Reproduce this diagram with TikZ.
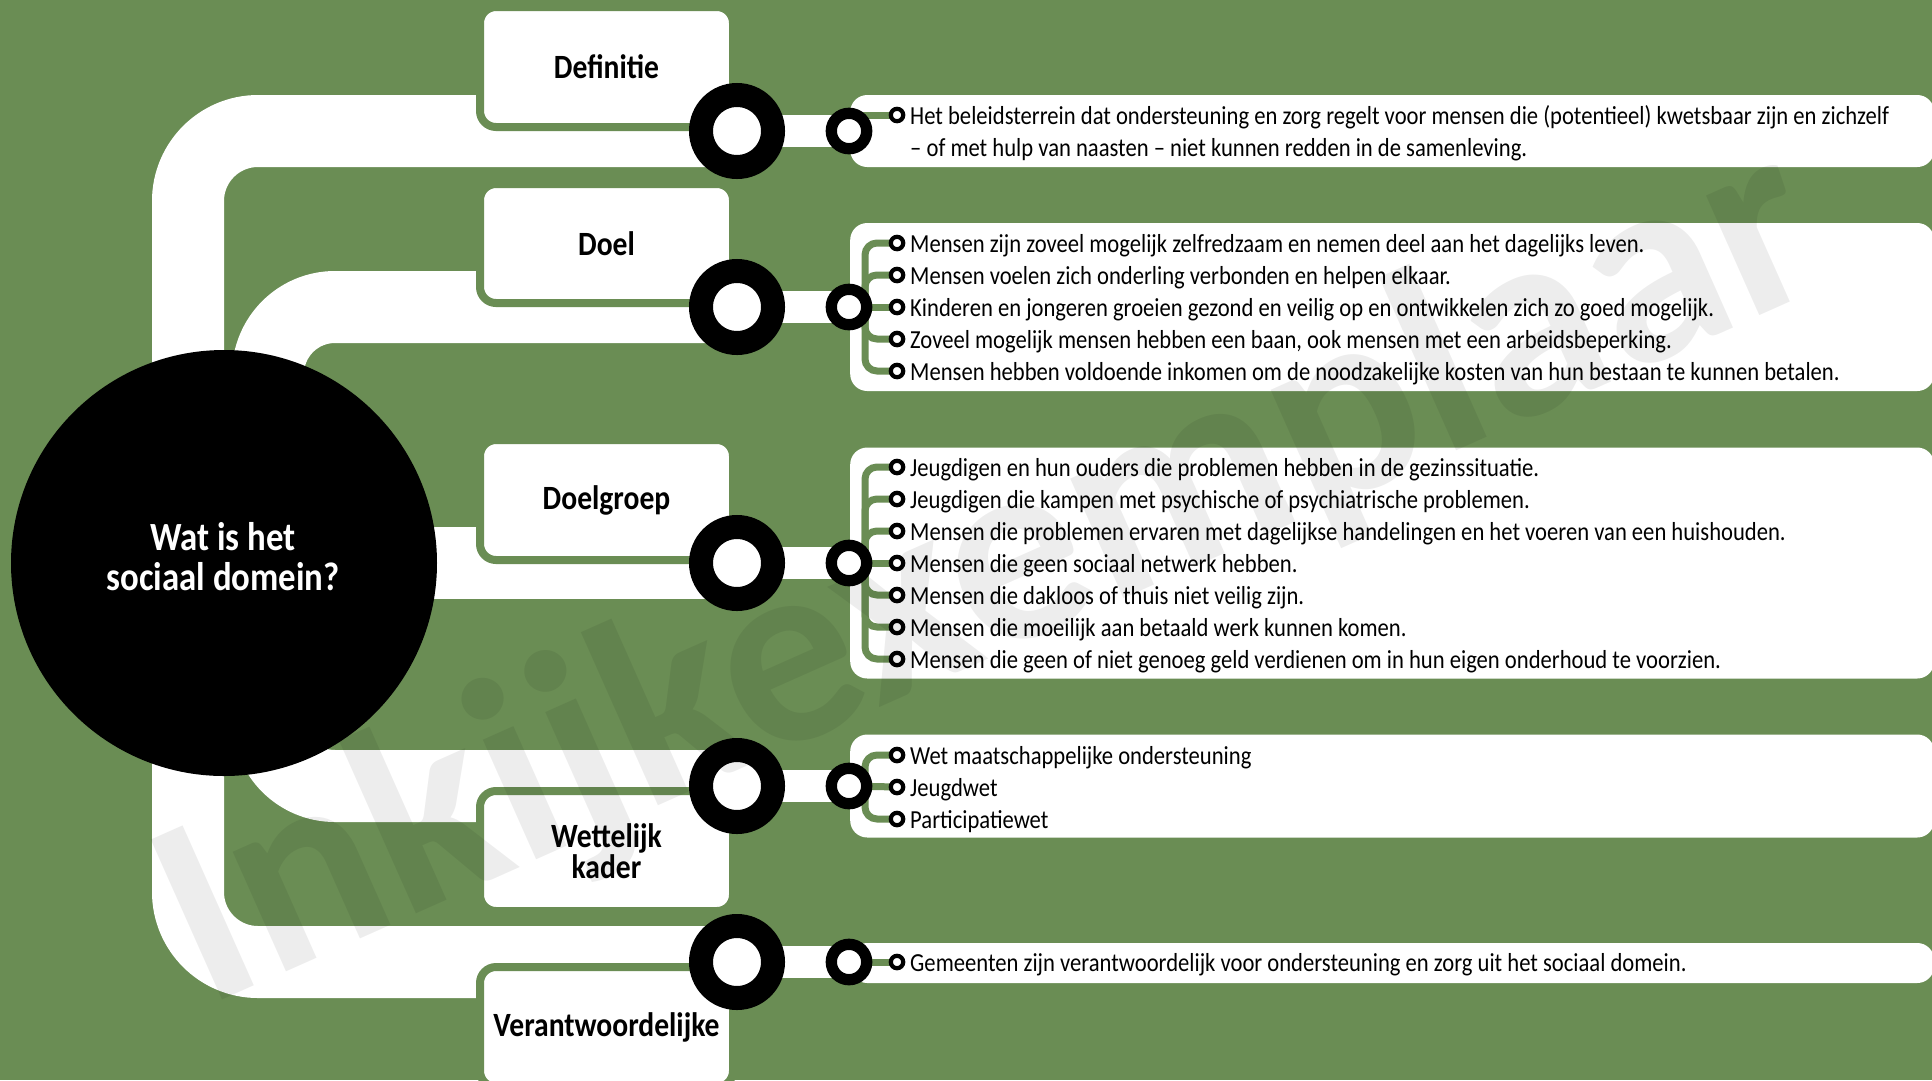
\documentclass[tikz,border=0pt]{standalone}
\usepackage{fontspec}
\setmainfont{Carlito}[FakeStretch=0.87]
\newfontfamily\markfont{Carlito}
\usetikzlibrary{calc}
\pgfdeclarelayer{ground}
\pgfdeclarelayer{tubes}
\pgfdeclarelayer{boxes}
\pgfdeclarelayer{twigs}
\pgfdeclarelayer{top}
\pgfsetlayers{ground,tubes,boxes,twigs,main,top}
\definecolor{leaf}{RGB}{106,141,84}
\begin{document}
\begin{tikzpicture}[x=1pt,y=-1pt,
  tube/.style={draw=white, line width=72pt},
  ringlink/.style={draw=white, line width=32pt},
  hub/.style={circle, fill=black, minimum size=426pt, inner sep=0pt},
  titletext/.style={anchor=base, inner sep=0pt, text=white, font=\bfseries\fontsize{40}{40}\selectfont},
  hbox/.style={rectangle, rounded corners=16pt, fill=white, draw=leaf, line width=8pt,
    minimum width=253pt, minimum height=120pt, inner sep=0pt, align=center,
    font=\bfseries\fontsize{34}{31}\selectfont},
  tbox/.style={rectangle, rounded corners=17pt, fill=white, minimum width=1084pt,
    inner sep=0pt, anchor=west},
  bigring/.style={circle, draw=black, fill=white, line width=24pt, minimum size=72pt, inner sep=0pt},
  smallring/.style={circle, draw=black, fill=white, line width=11.3pt, minimum size=35.4pt, inner sep=0pt},
  bul/.style={circle, draw=black, fill=white, line width=4.2pt, minimum size=12.4pt, inner sep=0pt},
  itemtext/.style={anchor=base west, inner sep=0pt, font=\fontsize{26}{32}\selectfont},
  twig/.style={draw=leaf, line width=7pt, rounded corners=12pt}]
\useasboundingbox (0,0) rectangle (1932,1080);
\begin{pgfonlayer}{ground}
  \fill[leaf] (0,0) rectangle (1932,1080);
\end{pgfonlayer}

% central hub
\node[hub] (hub) at (224,563) {};
\node[titletext] (title1) at (223,550) {Wat is het};
\node[titletext] (title2) at (223,590) {sociaal domein?};

% big rings
\node[bigring] (r1) at (737,131) {};
\node[bigring] (r2) at (737,307) {};
\node[bigring] (r3) at (737,563) {};
\node[bigring] (r4) at (737,786) {};
\node[bigring] (r5) at (737,962) {};

% small rings
\node[smallring] (s1) at (849,131) {};
\node[smallring] (s2) at (849,307) {};
\node[smallring] (s3) at (849,563) {};
\node[smallring] (s4) at (849,786) {};
\node[smallring] (s5) at (849,962) {};

% header boxes and text boxes
\begin{pgfonlayer}{boxes}
  \node[hbox] (h1) at (606.5,67) {Definitie};
  \node[hbox, minimum height=119pt] (h2) at (606.5,243.5) {Doel};
  \node[hbox] (h3) at (606.5,500) {Doelgroep};
  \node[hbox] (h4) at (606.5,851) {Wettelijk\\kader};
  \node[hbox] (h5) at (606.5,1027) {Verantwoordelijke};
  \node[tbox, minimum height=72pt] (t1) at (850,131) {};
  \node[tbox, minimum height=168pt] (t2) at (850,307) {};
  \node[tbox, minimum height=231pt] (t3) at (850,563) {};
  \node[tbox, minimum height=103pt] (t4) at (850,786) {};
  \node[tbox, minimum height=40pt] (t5) at (850,963) {};
\end{pgfonlayer}

% tubes
\begin{pgfonlayer}{tubes}
  \draw[tube, rounded corners=70pt] (r1.center) -- (188,131) -- (188,962) -- (r5.center);
  \draw[tube, rounded corners=67pt] (r2.center) -- (268,307) -- (268,786) -- (r4.center);
  \draw[tube] (hub.center) -- (r3.center);
  \draw[ringlink] (r1.center) -- (s1.center);
  \draw[ringlink] (r2.center) -- (s2.center);
  \draw[ringlink] (r3.center) -- (s3.center);
  \draw[ringlink] (r4.center) -- (s4.center);
  \draw[ringlink] (r5.center) -- (s5.center);
\end{pgfonlayer}

% Definitie
\node[bul] (d11) at (897,115) {};
\node[itemtext] (x11) at (910,124) {Het beleidsterrein dat ondersteuning en zorg regelt voor mensen die (potentieel) kwetsbaar zijn en zichzelf};
\node[itemtext] (x12) at (910,156) {– of met hulp van naasten – niet kunnen redden in de samenleving.};

% Doel
\node[bul] (d21) at (897,243) {};
\node[bul] (d22) at (897,275) {};
\node[bul] (d23) at (897,307) {};
\node[bul] (d24) at (897,339) {};
\node[bul] (d25) at (897,371) {};
\node[itemtext] (x21) at (910,252) {Mensen zijn zoveel mogelijk zelfredzaam en nemen deel aan het dagelijks leven.};
\node[itemtext] (x22) at (910,284) {Mensen voelen zich onderling verbonden en helpen elkaar.};
\node[itemtext] (x23) at (910,316) {Kinderen en jongeren groeien gezond en veilig op en ontwikkelen zich zo goed mogelijk.};
\node[itemtext] (x24) at (910,348) {Zoveel mogelijk mensen hebben een baan, ook mensen met een arbeidsbeperking.};
\node[itemtext] (x25) at (910,380) {Mensen hebben voldoende inkomen om de noodzakelijke kosten van hun bestaan te kunnen betalen.};

% Doelgroep
\node[bul] (d31) at (897,467) {};
\node[bul] (d32) at (897,499) {};
\node[bul] (d33) at (897,531) {};
\node[bul] (d34) at (897,563) {};
\node[bul] (d35) at (897,595) {};
\node[bul] (d36) at (897,627) {};
\node[bul] (d37) at (897,659) {};
\node[itemtext] (x31) at (910,476) {Jeugdigen en hun ouders die problemen hebben in de gezinssituatie.};
\node[itemtext] (x32) at (910,508) {Jeugdigen die kampen met psychische of psychiatrische problemen.};
\node[itemtext] (x33) at (910,540) {Mensen die problemen ervaren met dagelijkse handelingen en het voeren van een huishouden.};
\node[itemtext] (x34) at (910,572) {Mensen die geen sociaal netwerk hebben.};
\node[itemtext] (x35) at (910,604) {Mensen die dakloos of thuis niet veilig zijn.};
\node[itemtext] (x36) at (910,636) {Mensen die moeilijk aan betaald werk kunnen komen.};
\node[itemtext] (x37) at (910,668) {Mensen die geen of niet genoeg geld verdienen om in hun eigen onderhoud te voorzien.};

% Wettelijk kader
\node[bul] (d41) at (897,755) {};
\node[bul] (d42) at (897,787) {};
\node[bul] (d43) at (897,819) {};
\node[itemtext] (x41) at (910,764) {Wet maatschappelijke ondersteuning};
\node[itemtext] (x42) at (910,796) {Jeugdwet};
\node[itemtext] (x43) at (910,828) {Participatiewet};

% Verantwoordelijke
\node[bul] (d51) at (897,962) {};
\node[itemtext] (x51) at (910,971) {Gemeenten zijn verantwoordelijk voor ondersteuning en zorg uit het sociaal domein.};

% twigs
\begin{pgfonlayer}{twigs}
  \draw[twig] (s1.center |- d11.center) -- (d11.center);
  \draw[twig] (s2.center) -- (d23.center);
  \foreach \i in {1,2,4,5} { \draw[twig] ([xshift=16pt]s2.center) |- (d2\i.center); }
  \draw[twig] (s3.center) -- (d34.center);
  \foreach \i in {1,2,3,5,6,7} { \draw[twig] ([xshift=16pt]s3.center) |- (d3\i.center); }
  \draw[twig] (s4.center) -- (d42.center);
  \foreach \i in {1,3} { \draw[twig] ([xshift=16pt]s4.center) |- (d4\i.center); }
  \draw[twig] (s5.center) -- (d51.center);
\end{pgfonlayer}

% watermark
\begin{pgfonlayer}{top}
  \node[anchor=base west, inner sep=0pt, rotate=24, text=black, text opacity=0.07,
    font=\markfont\bfseries\fontsize{270}{270}\selectfont] (wm) at (205,1008) {Inkijkexemplaar};
\end{pgfonlayer}
\end{tikzpicture}
\end{document}
